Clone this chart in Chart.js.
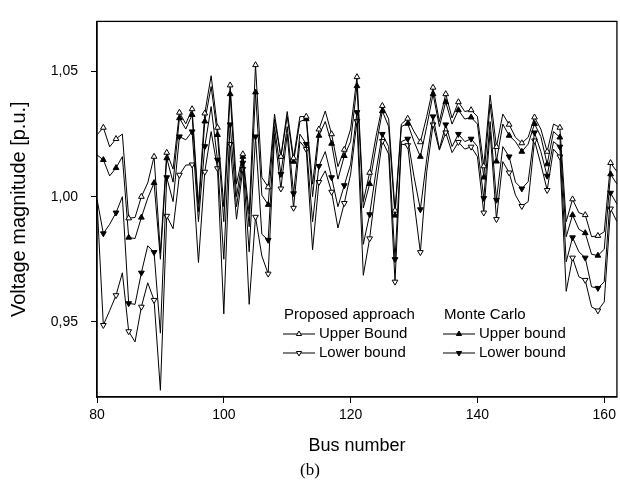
<!DOCTYPE html>
<html>
<head>
<meta charset="utf-8">
<script src="https://cdn.jsdelivr.net/npm/chart.js@4.4.0/dist/chart.umd.min.js"></script>
<style>
  html, body { margin: 0; padding: 0; background: #fff; }
  #wrap { width: 620px; height: 487px; }
</style>
</head>
<body>
<div id="wrap"><canvas id="voltageChart"></canvas></div>
<script>
// bus numbers 80..162
const buses = [80, 81, 82, 83, 84, 85, 86, 87, 88, 89, 90, 91, 92, 93, 94, 95, 96, 97, 98, 99,
  100, 101, 102, 103, 104, 105, 106, 107, 108, 109, 110, 111, 112, 113, 114, 115, 116, 117, 118, 119,
  120, 121, 122, 123, 124, 125, 126, 127, 128, 129, 130, 131, 132, 133, 134, 135, 136, 137, 138, 139,
  140, 141, 142, 143, 144, 145, 146, 147, 148, 149, 150, 151, 152, 153, 154, 155, 156, 157, 158, 159,
  160, 161, 162];

// Proposed approach - upper bound
const paUpper = [1.0247, 1.0276, 1.0199, 1.0231, 1.0250, 0.9914, 0.9917, 1.0000, 1.0055, 1.0160,
  0.9776, 1.0176, 1.0110, 1.0336, 1.0291, 1.0350, 0.9970, 1.0333, 1.0483, 1.0276,
  0.9960, 1.0445, 1.0050, 1.0170, 0.9930, 1.0526, 1.0077, 1.0038, 1.0330, 1.0160,
  1.0340, 1.0154, 1.0320, 1.0320, 1.0050, 1.0269, 1.0342, 1.0250, 1.0120, 1.0188,
  1.0270, 1.0478, 0.9980, 1.0096, 1.0240, 1.0363, 1.0310, 0.9945, 1.0290, 1.0312,
  1.0260, 1.0218, 1.0320, 1.0436, 1.0300, 1.0410, 1.0314, 1.0378, 1.0340, 1.0346,
  1.0320, 1.0122, 1.0406, 1.0199, 1.0330, 1.0288, 1.0237, 1.0214, 1.0237, 1.0317,
  1.0270, 1.0180, 1.0290, 1.0276, 0.9900, 0.9990, 0.9936, 0.9927, 0.9840, 0.9844,
  0.9860, 1.0135, 1.0100];

// Monte Carlo - upper bound
const mcUpper = [1.0167, 1.0147, 1.0083, 1.0115, 1.0160, 0.9837, 0.9833, 0.9917, 0.9994, 1.0055,
  0.9750, 1.0154, 1.0058, 1.0314, 1.0270, 1.0327, 0.9940, 1.0301, 1.0440, 1.0247,
  0.9900, 1.0410, 1.0000, 1.0160, 0.9880, 1.0417, 1.0006, 0.9968, 1.0310, 1.0160,
  1.0320, 1.0140, 1.0300, 1.0310, 1.0000, 1.0244, 1.0300, 1.0212, 1.0070, 1.0163,
  1.0220, 1.0442, 0.9955, 1.0051, 1.0200, 1.0342, 1.0280, 0.9925, 1.0280, 1.0292,
  1.0220, 1.0160, 1.0280, 1.0410, 1.0280, 1.0378, 1.0290, 1.0346, 1.0310, 1.0317,
  1.0290, 1.0077, 1.0370, 1.0141, 1.0290, 1.0244, 1.0220, 1.0180, 1.0210, 1.0291,
  1.0240, 1.0130, 1.0260, 1.0237, 0.9840, 0.9927, 0.9870, 0.9855, 0.9770, 0.9765,
  0.9790, 1.0090, 1.0050];

// Monte Carlo - lower bound
const mcLower = [0.9990, 0.9853, 0.9890, 0.9936, 1.0000, 0.9574, 0.9570, 0.9696, 0.9804, 0.9778,
  0.9455, 1.0077, 0.9980, 1.0240, 1.0227, 1.0260, 0.9900, 1.0201, 1.0360, 1.0147,
  0.9750, 1.0288, 0.9960, 1.0135, 0.9780, 1.0240, 0.9850, 0.9827, 1.0280, 1.0090,
  1.0280, 1.0013, 1.0250, 1.0210, 0.9900, 1.0122, 1.0180, 1.0077, 0.9960, 1.0045,
  1.0130, 1.0337, 0.9810, 0.9929, 1.0100, 1.0250, 1.0200, 0.9750, 1.0220, 1.0231,
  1.0080, 0.9949, 1.0150, 1.0320, 1.0190, 1.0288, 1.0200, 1.0250, 1.0220, 1.0231,
  1.0200, 0.9994, 1.0300, 0.9987, 1.0200, 1.0160, 1.0058, 1.0032, 1.0060, 1.0256,
  1.0180, 1.0083, 1.0220, 1.0199, 0.9740, 0.9837, 0.9780, 0.9756, 0.9640, 0.9635,
  0.9660, 1.0015, 0.9970];

// Proposed approach - lower bound
const paLower = [0.9980, 0.9487, 0.9545, 0.9606, 0.9696, 0.9462, 0.9420, 0.9560, 0.9656, 0.9587,
  0.9227, 0.9923, 0.9872, 1.0087, 1.0126, 1.0128, 0.9737, 1.0099, 1.0260, 1.0113,
  0.9532, 1.0210, 0.9910, 1.0110, 0.9570, 0.9919, 0.9763, 0.9692, 1.0250, 1.0032,
  1.0250, 0.9955, 1.0220, 1.0190, 0.9788, 1.0058, 1.0103, 1.0019, 0.9875, 0.9974,
  1.0090, 1.0301, 0.9686, 0.9833, 1.0040, 1.0222, 1.0170, 0.9660, 1.0210, 1.0205,
  0.9980, 0.9778, 1.0100, 1.0288, 1.0186, 1.0256, 1.0176, 1.0218, 1.0190, 1.0199,
  1.0160, 0.9936, 1.0260, 0.9910, 1.0140, 1.0096, 1.0006, 0.9962, 0.9980, 1.0224,
  1.0130, 1.0026, 1.0190, 1.0160, 0.9622, 0.9756, 0.9680, 0.9667, 0.9560, 0.9545,
  0.9580, 0.9952, 0.9900];

const xTicks = [80, 100, 120, 140, 160];
const yTicks = [0.95, 1.00, 1.05];

function toPoints(values) {
  return values.map((v, i) => ({ x: buses[i], y: v }));
}

// symbols only on every second bus (81, 83, ...) like the original plot
const markerRadius = ctx => (ctx.dataIndex % 2 === 1 ? 3.3 : 0);

function series(label, values, filled, down) {
  return {
    label: label,
    data: toPoints(values),
    borderColor: '#000',
    borderWidth: 1,
    pointStyle: 'triangle',
    pointRotation: down ? 180 : 0,
    pointRadius: markerRadius,
    pointHoverRadius: markerRadius,
    pointBorderWidth: 1,
    pointBorderColor: '#000',
    pointBackgroundColor: filled ? '#000' : '#fff',
    tension: 0,
    fill: false
  };
}

// frame + two-column legend + caption
const framePlugin = {
  id: 'framePlugin',
  afterDraw(chart) {
    const ctx = chart.ctx;
    const a = chart.chartArea;
    ctx.save();
    ctx.strokeStyle = '#000';
    ctx.lineWidth = 1.3;
    ctx.strokeRect(a.left, a.top, a.right - a.left, a.bottom - a.top);

    const ds = chart.data.datasets;
    const groups = [
      { title: 'Proposed approach', x: 283, items: [0, 3] },
      { title: 'Monte Carlo', x: 443, items: [1, 2] }
    ];
    const rowY = [315, 334, 353];
    ctx.font = "15px 'Liberation Sans', Arial, sans-serif";
    ctx.textBaseline = 'middle';
    ctx.textAlign = 'left';
    groups.forEach(g => {
      ctx.fillStyle = '#000';
      ctx.fillText(g.title, g.x + 1, rowY[0]);
      g.items.forEach((idx, k) => {
        const d = ds[idx];
        const y = rowY[k + 1];
        ctx.lineWidth = 1;
        ctx.strokeStyle = '#000';
        ctx.beginPath();
        ctx.moveTo(g.x, y);
        ctx.lineTo(g.x + 32, y);
        ctx.stroke();
        ctx.fillStyle = d.pointBackgroundColor;
        Chart.helpers.drawPoint(ctx, {
          pointStyle: 'triangle', rotation: d.pointRotation, radius: 3, borderWidth: 1
        }, g.x + 16, y);
        ctx.fillStyle = '#000';
        ctx.fillText(d.label, g.x + 36, y);
      });
    });

    ctx.font = "17px 'Liberation Serif', 'Times New Roman', serif";
    ctx.textAlign = 'center';
    ctx.fillText('(b)', 310, 471);
    ctx.restore();
  }
};

const tickFont = { family: "'Liberation Sans', Arial, sans-serif", size: 14 };
const xTitleFont = { family: "'Liberation Sans', Arial, sans-serif", size: 18 };
const yTitleFont = { family: "'Liberation Sans', Arial, sans-serif", size: 20 };

new Chart(document.getElementById('voltageChart'), {
  type: 'line',
  data: {
    datasets: [
      series('Upper Bound', paUpper, false, false),
      series('Upper bound', mcUpper, true, false),
      series('Lower bound', mcLower, true, true),
      series('Lower bound', paLower, false, true)
    ]
  },
  options: {
    responsive: true,
    maintainAspectRatio: false,
    animation: false,
    layout: { padding: { top: 7, right: 3, left: 0, bottom: 0 } },
    plugins: {
      legend: { display: false },
      tooltip: { enabled: false }
    },
    scales: {
      x: {
        type: 'linear',
        min: 80,
        max: 162,
        afterBuildTicks: scale => { scale.ticks = xTicks.map(v => ({ value: v })); },
        afterFit: scale => { scale.height = 90; },
        grid: { drawOnChartArea: false, drawTicks: true, tickLength: 6, color: '#000', lineWidth: 1 },
        border: { display: true, color: '#000', width: 1.3 },
        ticks: { color: '#000', font: tickFont, padding: 4, maxRotation: 0 },
        title: { display: true, text: 'Bus number', color: '#000', font: xTitleFont, padding: { top: 0, bottom: 30 } }
      },
      y: {
        min: 0.92,
        max: 1.07,
        afterBuildTicks: scale => { scale.ticks = yTicks.map(v => ({ value: v })); },
        afterFit: scale => { scale.width = 97; },
        grid: { drawOnChartArea: false, drawTicks: true, tickLength: 6, color: '#000', lineWidth: 1 },
        border: { display: true, color: '#000', width: 1.3 },
        ticks: {
          color: '#000', font: tickFont, padding: 13,
          callback: v => v.toFixed(2).replace('.', ',')
        },
        title: { display: true, text: 'Voltage magnitude [p.u.]', color: '#000', font: yTitleFont, padding: { top: 7, bottom: 0 } }
      }
    }
  },
  plugins: [framePlugin]
});
</script>
</body>
</html>
